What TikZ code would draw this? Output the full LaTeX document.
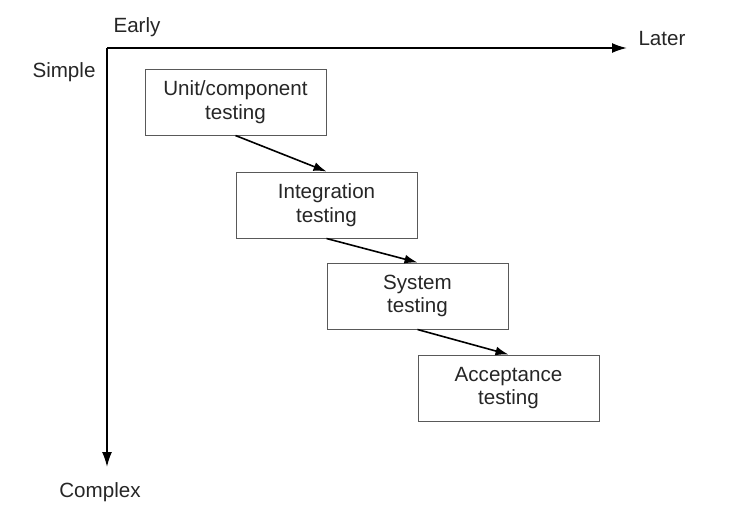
\documentclass[tikz,border=0pt]{standalone}
\usepackage{fontspec}
\setmainfont{Liberation Sans}
\usepackage{tikz}
\usetikzlibrary{arrows.meta,positioning}

\begin{document}
\begin{tikzpicture}[
    x=0.5pt, y=-0.5pt,
    font=\fontsize{10.3}{11.8}\selectfont,
    stage/.style={rectangle, draw=black!65, line width=0.5pt, minimum width=90.5pt, minimum height=33pt, align=center, text=black!85, inner sep=0pt},
    label/.style={text=black!85, inner sep=0pt},
    axis/.style={-{Latex[length=7.5pt,width=5pt]}, line width=0.9pt},
    arrow/.style={-{Latex[length=6.5pt,width=4.5pt]}, line width=0.8pt}
]
\useasboundingbox (0,0) rectangle (734,521);

% axes
\coordinate (origin) at (107,48);
\coordinate (later) at (627,48);
\coordinate (complex) at (107,467);
\draw[axis] (origin) -- (later);
\draw[axis] (origin) -- (complex);

\node[label] (early) at (137,27) {Early};
\node[label] (laterlbl) at (662,39) {Later};
\node[label] (simple) at (64,72) {Simple};
\node[label] (complexlbl) at (100,492) {Complex};

% stages
\node[stage] (unit) at (235.5,102) {Unit/component\\testing};
\node[stage, below right=18pt and 0pt of unit.south] (integration) {Integration\\testing};
\node[stage, below right=12pt and 0pt of integration.south] (system) {System\\testing};
\node[stage, below right=12.5pt and 0pt of system.south] (acceptance) {Acceptance\\testing};

\draw[arrow] (unit.south) -- (integration.north);
\draw[arrow] (integration.south) -- (system.north);
\draw[arrow] (system.south) -- (acceptance.north);

\end{tikzpicture}
\end{document}
